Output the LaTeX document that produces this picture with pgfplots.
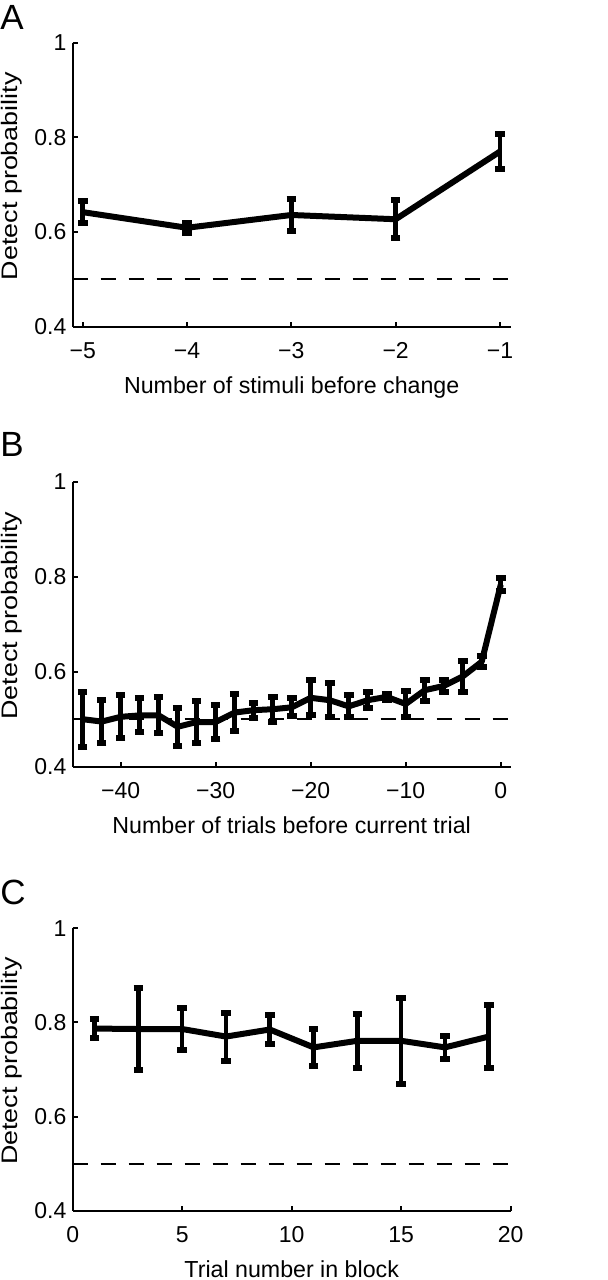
\documentclass[border=0pt]{standalone}
\usepackage{pgfplots}
\pgfplotsset{compat=1.18}
\usepackage{fontspec}
\setmainfont{Liberation Sans}
\usepackage{graphicx}

\pgfplotsset{
  panel/.style={
    scale only axis, width=219pt,
    anchor=south west,
    axis x line*=bottom, axis y line*=left,
    axis line style={line width=1pt, -},
    tick align=inside, major tick length=2.5pt,
    every tick/.style={black, line width=1pt},
    ymin=0.4, ymax=1, ytick={0.4,0.6,0.8,1},
    yticklabels={0.4,0.6,0.8,1},
    /pgf/number format/assume math mode=true,
    tick label style={font=\fontsize{11.5}{13}\selectfont},
    yticklabel style={anchor=east, inner sep=0pt, xshift=-3pt},
    xticklabel style={anchor=base, inner sep=0pt, yshift=-15.8pt},
    xlabel style={at={(axis description cs:0.5,0)}, anchor=base, inner sep=0pt, yshift=-33.35pt, font=\fontsize{11.6}{13}\selectfont},
    ylabel style={at={(axis description cs:-0.126,0.53)}, anchor=base, inner sep=0pt, font=\fontsize{11.2}{13}\selectfont},
    ylabel={\scalebox{1.2}[1]{Detect probability}},
    clip=false,
  },
  dataline/.style={black, line width=3pt, mark=none, line join=round,
    error bars/.cd, y dir=both, y explicit,
    error bar style={line width=2.3pt, black},
    error mark options={line width=3pt, mark size=2.4pt, black, rotate=90}},
  chance/.style={black, line width=1pt, dash pattern=on 7.5pt off 6.5pt},
}

\pgfplotstableread{
x y e
-5 0.642 0.023
-4 0.609 0.011
-3 0.636 0.033
-2 0.627 0.040
-1 0.770 0.037
}\dataA

\pgfplotstableread{
x y e
-44 0.500 0.058
-42 0.495 0.045
-40 0.505 0.045
-38 0.508 0.036
-36 0.508 0.038
-34 0.484 0.040
-32 0.494 0.044
-30 0.494 0.036
-28 0.514 0.039
-26 0.519 0.016
-24 0.521 0.026
-22 0.525 0.019
-20 0.545 0.037
-18 0.540 0.036
-16 0.527 0.023
-14 0.540 0.017
-12 0.547 0.007
-10 0.532 0.028
-8 0.561 0.022
-6 0.570 0.013
-4 0.590 0.033
-2 0.621 0.011
0 0.783 0.014
}\dataB

\pgfplotstableread{
x y e
1 0.787 0.021
3 0.786 0.087
5 0.786 0.044
7 0.770 0.051
9 0.785 0.030
11 0.747 0.039
13 0.761 0.058
15 0.761 0.091
17 0.747 0.025
19 0.770 0.066
}\dataC

\begin{document}
\begin{tikzpicture}
\path[use as bounding box] (0,0) rectangle (304pt,640pt);

% Panel A
\begin{axis}[panel, at={(36.35pt,476.65pt)}, height=142pt,
  xmin=-5.096, xmax=-0.897,
  xtick={-5,-4,-3,-2,-1}, xticklabels={−5,−4,−3,−2,−1},
  xlabel={Number of stimuli before change}]
\addplot[chance] coordinates {(-5.096,0.5) (-0.897,0.5)};
\addplot[dataline] table[x=x, y=y, y error=e] {\dataA};
\end{axis}

% Panel B
\begin{axis}[panel, at={(36.35pt,256.65pt)}, height=142.5pt,
  xmin=-45.05, xmax=1.05,
  xtick={-40,-30,-20,-10,0}, xticklabels={−40,−30,−20,−10,0},
  xlabel={Number of trials before current trial}]
\addplot[chance] coordinates {(-45.05,0.5) (1.05,0.5)};
\addplot[dataline] table[x=x, y=y, y error=e] {\dataB};
\end{axis}

% Panel C
\begin{axis}[panel, at={(36.35pt,34.65pt)}, height=141.2pt,
  xmin=0, xmax=20,
  xtick={0,5,10,15,20}, xticklabels={0,5,10,15,20},
  xlabel={Trial number in block}]
\addplot[chance] coordinates {(0,0.5) (20,0.5)};
\addplot[dataline] table[x=x, y=y, y error=e] {\dataC};
\end{axis}

\node[anchor=base west, inner sep=0pt, font=\fontsize{17.5}{20}\selectfont] at (0pt,625pt) {A};
\node[anchor=base west, inner sep=0pt, font=\fontsize{17.5}{20}\selectfont] at (0pt,411.65pt) {B};
\node[anchor=base west, inner sep=0pt, font=\fontsize{17.5}{20}\selectfont] at (0pt,187.5pt) {C};
\end{tikzpicture}
\end{document}
